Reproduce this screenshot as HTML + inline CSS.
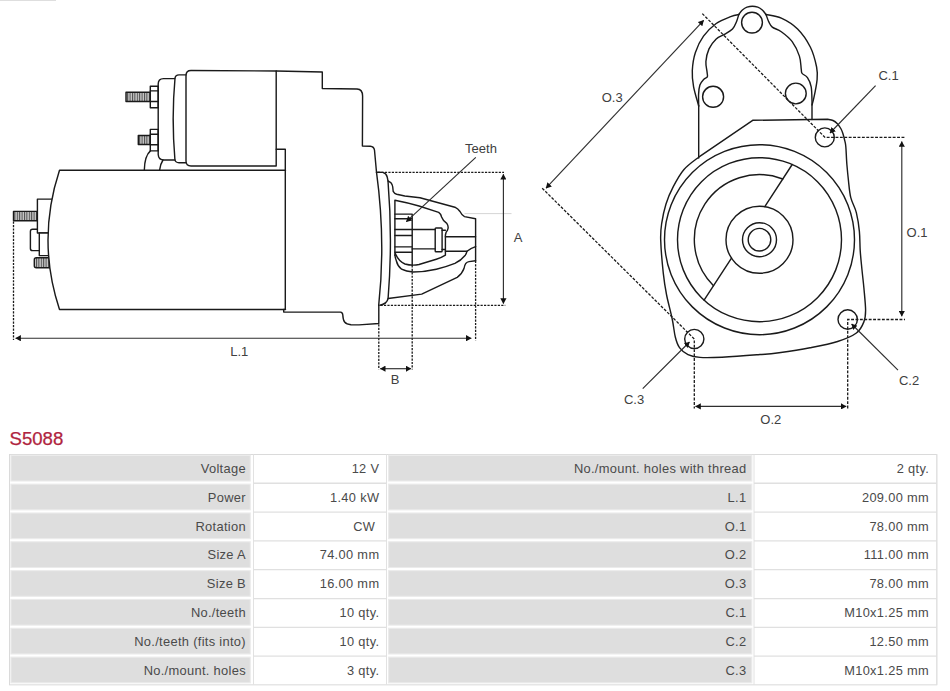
<!DOCTYPE html>
<html><head><meta charset="utf-8"><title>S5088</title>
<style>
html,body{margin:0;padding:0;background:#fff;}
body{width:950px;height:691px;position:relative;overflow:hidden;font-family:"Liberation Sans",sans-serif;}
#dr{position:absolute;left:0;top:0;width:950px;height:430px;}
#dr text{font-family:"Liberation Sans",sans-serif;font-size:13px;fill:#404040;}
h1{position:absolute;left:9.5px;top:428px;margin:0;font-size:18.6px;line-height:22px;font-weight:normal;color:#b0243e;-webkit-text-stroke:0.25px #b0243e;}
#tbl{position:absolute;left:0;top:445px;width:950px;height:246px;}
#tbl text{font-family:"Liberation Sans",sans-serif;fill:#4a4a4a;text-anchor:end;}
#tbl .l{font-size:12.9px;letter-spacing:0.3px;}
#tbl .v{font-size:12.8px;letter-spacing:0.35px;}
</style></head><body>
<svg id="dr" width="950" height="430" viewBox="0 0 950 430">
<defs>
<pattern id="th" width="2.4" height="10" patternUnits="userSpaceOnUse"><rect width="2.4" height="10" fill="#c8c8c8"/><rect width="1" height="10" fill="#4a4a4a"/></pattern>
<marker id="ah" viewBox="0 0 5.6 6.2" refX="5.3" refY="3.1" markerWidth="5.6" markerHeight="6.2" orient="auto-start-reverse" markerUnits="userSpaceOnUse"><path d="M0,0 L5.6,3.1 L0,6.2 Z" fill="#111"/></marker>
</defs>
<g fill="none" stroke="#1a1a1a" stroke-width="1.42" stroke-linejoin="round" stroke-linecap="round">

<!-- ===== SIDE VIEW ===== -->
<!-- left terminal of motor -->
<rect x="13.5" y="211.4" width="23.8" height="9.3" fill="url(#th)"/>
<rect x="30.4" y="229.2" width="12" height="21.4" rx="2.2" fill="#fff"/>
<path d="M52,199.1 L37.4,199.1 L37.4,233 L50,233" fill="#fff"/>
<path d="M50,233 L39.3,233 L39.3,255.6 L50,255.6" fill="#fff"/>
<path d="M50,257.8 L36.3,257.8 Q34.3,257.8 34.3,259.8 L34.3,265.8 Q34.3,267.8 36.3,267.8 L50,267.8 Z" fill="url(#th)"/>
<!-- motor body -->
<path d="M285.5,170.2 L59.5,170.2 Q36.5,240 59.5,309.5 L285.5,309.5" fill="#fff"/>
<path d="M276.2,149.2 L285.3,149.2 L285.3,309.4 L283.7,309.4 L283.7,312.1 L340.5,312.1 Q342.6,312.3 342.8,315 Q343,320 344.6,322 Q346.5,324.3 351,324.7 L359,324.9 L378.8,323.5 L378.8,305.3"/>
<!-- solenoid bolts -->
<rect x="126" y="92.3" width="24.3" height="9.2" fill="url(#th)"/>
<rect x="150.3" y="86.3" width="7.9" height="21.5" fill="#fff"/>
<path d="M150.3,90.9 H158.2 M150.3,101.5 H158.2"/>
<rect x="138.3" y="135.5" width="12" height="9" fill="url(#th)"/>
<rect x="150.3" y="129.4" width="7.9" height="21.5" fill="#fff"/>
<path d="M150.3,134.3 H158.2 M150.3,144.8 H158.2"/>
<!-- solenoid support arcs -->
<path d="M150.4,150.9 Q144.6,156 144.3,170.2"/>
<path d="M163,160 Q160.3,164 159.6,170.2"/>
<!-- solenoid caps -->
<path d="M174.8,78.6 L163.5,78.6 Q158.2,78.6 158.2,84 L158.2,154.5 Q158.5,160 164,160 L174.9,160"/>
<path d="M186,74.9 L179,74.9 Q175.4,75 175,78.2 Q171.4,118 174.9,159.5 Q175.4,162.7 179,162.7 L186,162.7"/>
<path d="M276.2,71 L191,70.5 Q186,70.5 186,75.5 L186,161 Q186,166 191,166 L276.2,166 Z"/>
<!-- housing -->
<path d="M276.2,71 L322.3,72 L322.3,88.5 L357,89 Q362.6,89.3 362.6,96 L362.4,146 L370.3,146.3 Q374,146.7 374.5,150.2 L376.5,172.2"/>
<path d="M376.5,172.2 Q385.8,240 378.7,305.4"/>
<!-- nose cone -->
<path d="M376.5,172.2 L382.8,172.4 Q386.4,173.3 387.2,177 L388,180.9 Q389.5,182 390.9,182.7 Q392.5,184.5 392.7,186.7 L393.2,191.3 Q394.4,193.6 396.7,194.2 L404.8,196 L420,197.7 L454.9,207.2 Q458,208.8 460,211.5 Q462,215.5 464.5,216.6 L475.6,218.8 L475.6,260.8"/>
<path d="M388,180.9 Q392.8,240 388.1,298.5 Q386.8,304 380,305.2"/>
<path d="M388.1,298.5 L421.7,294.1 L457.2,277.3 Q462,274 464,268.5 Q465,262 469,261.6 L475.6,260.8"/>
<!-- inner window -->
<path d="M394.9,255.2 L394.9,200.2 Q407,202.5 419,206 L438.7,212.4 Q441,214 441.6,217 Q443,221 446.8,223.4 Q448.6,226 448,228.6 Q447.5,231 446.2,232 L445.4,235 L445.4,255.2 Q441,258 436.3,259.3 L419,264.5 Q412,266 405,264 Q398,261 394.9,252.3"/>
<path d="M475.6,246.6 Q470,248.5 467,251.2 Q466.5,253.5 465.3,255.2 Q461,260.5 454.9,263.4 Q446,267 436.3,269.2 Q424,272 413.2,272 Q406,271.5 401.6,269.2 Q397.5,266 396.4,261 Q395.2,258 394.9,255.2"/>
<!-- pinion -->
<path d="M394.9,214.1 H412.2 M394.9,218.7 H412.2 M394.9,229.5 H412.2 M394.9,235.5 H412.2 M394.9,246.9 H412.2 M394.9,252.3 H412.2 M412.2,214.1 V265.3"/>
<path d="M412.2,229.5 H435.2 M412.2,248.9 H435.2"/>
<rect x="435.2" y="228" width="6.9" height="23.8" rx="0.8"/>
<path d="M442.1,230.3 H445.4 M442.1,249.5 H445.4"/>
<path d="M445.4,236.7 H475.6 M445.4,251.2 H467"/>

<!-- ===== FRONT VIEW ===== -->
<!-- solenoid cap outer -->
<path d="M698.7,158 L698.7,106"/>
<path d="M698.7,106.0 C697.9,102.8 694.7,92.7 693.6,86.8 C692.5,80.9 692.0,76.3 692.3,70.6 C692.6,64.9 693.5,58.2 695.4,52.5 C697.3,46.8 700.0,41.0 703.5,36.2 C707.0,31.4 711.7,26.8 716.2,23.5 C720.7,20.2 726.9,18.1 730.7,16.6 C734.5,15.1 737.4,14.8 738.8,14.5"/>
<path d="M738.8,14.5 C739.4,13.8 741.0,11.2 742.4,10.0 C743.8,8.8 745.3,7.8 747.0,7.2 C748.7,6.6 750.6,6.2 752.4,6.2 C754.2,6.2 756.1,6.6 757.8,7.2 C759.4,7.8 760.9,8.8 762.3,10.0 C763.7,11.2 765.4,13.8 766.0,14.5"/>
<path d="M766.0,14.5 C768.5,15.1 776.0,15.7 781.3,18.1 C786.6,20.5 792.8,24.2 797.6,29.0 C802.4,33.8 807.1,40.7 810.3,47.0 C813.5,53.3 815.5,61.6 816.6,67.0 C817.7,72.4 817.6,74.5 817.1,79.6 C816.6,84.7 814.8,93.5 813.9,97.7 C813.0,101.9 812.3,103.8 812.0,105.0 L812,119.5"/>
<!-- inner contour -->
<path d="M698.7,106.0 C698.7,104.0 698.4,97.5 698.6,94.0 C698.8,90.5 699.1,87.4 699.9,85.0 C700.7,82.6 702.3,80.9 703.5,79.6 C704.7,78.2 706.7,78.1 707.3,76.9 C707.9,75.7 707.3,75.0 707.1,72.4 C706.9,69.8 705.6,65.4 705.9,61.5 C706.2,57.6 707.3,52.7 709.0,48.9 C710.7,45.1 713.7,41.3 716.2,38.9 C718.8,36.5 721.6,36.0 724.3,34.4 C727.0,32.8 730.5,31.1 732.5,29.0 C734.5,26.9 735.5,24.1 736.5,21.7 C737.5,19.3 738.4,15.7 738.8,14.5"/>
<path d="M766.0,14.5 C766.5,15.7 767.7,19.6 768.7,21.7 C769.8,23.8 770.2,25.4 772.3,27.1 C774.4,28.8 778.0,29.3 781.3,31.7 C784.6,34.1 789.2,37.5 792.2,41.6 C795.2,45.7 797.9,51.6 799.4,56.1 C800.9,60.6 800.8,65.9 801.2,68.8 C801.7,71.7 801.0,71.8 802.1,73.3 C803.2,74.8 806.1,75.5 807.6,77.8 C809.1,80.0 810.5,82.9 811.2,86.8 C811.9,90.7 811.9,98.3 812.0,101.3 C812.1,104.3 812.0,104.4 812.0,105.0"/>
<circle cx="752" cy="22.6" r="10.4"/>
<circle cx="713.1" cy="96.8" r="10.5"/>
<circle cx="795.8" cy="93.5" r="10.4"/>
<!-- bracket -->
<path d="M752.7,120.3 L827.8,119.3 C828.7,119.5 831.4,119.8 833.0,120.5 C834.6,121.2 836.1,122.4 837.4,123.7 C838.7,125.0 839.9,126.9 840.8,128.5 C841.7,130.1 842.2,131.4 842.8,133.3 C843.4,135.2 844.1,137.8 844.6,140.0 C845.1,142.2 845.4,142.4 845.8,146.5 C846.2,150.6 846.4,158.9 846.9,164.7 C847.4,170.4 847.9,175.5 848.5,181.0 C849.1,186.5 849.5,192.4 850.8,197.7 C852.1,203.0 855.0,207.2 856.4,212.8 C857.8,218.5 858.8,225.3 859.4,231.6 C860.0,237.9 859.8,244.0 860.2,250.4 C860.6,256.8 861.4,263.7 862.0,270.0 C862.6,276.3 863.3,281.2 863.9,288.0 C864.5,294.8 865.6,304.9 865.6,310.5 C865.6,316.1 865.4,318.1 863.9,321.8 C862.4,325.6 860.8,329.7 856.4,333.0 C852.0,336.3 845.3,339.0 837.6,341.5 C829.9,344.0 819.8,345.9 810.0,347.8 C800.2,349.7 787.9,351.5 779.0,352.7 C770.1,353.9 766.3,354.1 756.8,354.8 C747.3,355.6 731.5,356.8 722.0,357.2 C712.5,357.6 705.7,357.8 700.0,357.4 C694.3,357.0 691.4,356.2 688.0,354.6 C684.6,353.0 681.6,350.5 679.5,347.6 C677.4,344.7 676.5,341.8 675.3,337.0 C674.1,332.2 673.7,326.0 672.2,319.0 C670.8,312.0 668.1,302.6 666.6,295.0 C665.1,287.4 664.3,282.5 663.3,273.3 C662.3,264.1 661.0,248.3 660.7,240.0 C660.4,231.7 660.8,229.3 661.7,223.3 C662.6,217.3 664.1,210.1 666.0,204.0 C667.9,197.9 670.3,192.4 673.3,186.7 C676.3,180.9 679.8,174.4 684.0,169.5 C688.2,164.6 696.2,159.2 698.7,157.2 L752.7,120.3"/>
<circle cx="824.8" cy="137.4" r="9.5"/>
<circle cx="694.3" cy="339" r="9.6"/>
<circle cx="847.7" cy="319.5" r="9.7"/>
<!-- circles -->
<circle cx="759.5" cy="239.7" r="95"/>
<circle cx="759.5" cy="239.7" r="82"/>
<circle cx="759.5" cy="239.7" r="33.5"/>
<circle cx="759.5" cy="239.7" r="17"/>
<circle cx="759.5" cy="239.7" r="11.3"/>
<path d="M782.8,179 A65,65 0 0 0 713.5,285.7"/>
<path d="M792.2,164.5 L764.8,206.6 M731.5,258.1 L704.1,300.2"/>
</g>

<!-- light artefact line -->
<rect x="0" y="0" width="56" height="1" fill="#dedede"/>
<path d="M464.5,213.6 H511.5" stroke="#d6d6d6" stroke-width="1" fill="none"/>

<!-- ===== DIMENSIONS ===== -->
<g fill="none" stroke="#1a1a1a" stroke-width="1.3" stroke-dasharray="2.2 1.25">
<path d="M13.5,221.5 V340"/>
<path d="M378,172.3 H504"/>
<path d="M380.5,305.4 H505.3"/>
<path d="M378.8,324.3 V369.5"/>
<path d="M412.2,265.3 V369.5"/>
<path d="M475.6,260.8 V340.5"/>
</g>
<g fill="none" stroke="#1a1a1a" stroke-width="1.3" stroke-dasharray="2.9 1.5">
<path d="M702.3,13.6 L825,137.4 H905"/>
<path d="M542.2,188.2 L694.3,339 V408.5"/>
<path d="M847.7,408.5 V319.5 H905"/>
</g>
<g fill="none" stroke="#2e2e2e" stroke-width="1.15">
<path d="M15.6,338.2 H471.3" marker-start="url(#ah)" marker-end="url(#ah)"/>
<path d="M380.2,368.7 H411" marker-start="url(#ah)" marker-end="url(#ah)"/>
<path d="M503.4,174.3 V303.6" marker-start="url(#ah)" marker-end="url(#ah)"/>
<path d="M475.8,157.3 L406.3,221.7" marker-end="url(#ah)"/>
<path d="M703.7,20.3 L546,188.2" marker-start="url(#ah)" marker-end="url(#ah)"/>
<path d="M901.8,141.5 V316.3" marker-start="url(#ah)" marker-end="url(#ah)"/>
<path d="M695.5,406.4 H846.2" marker-start="url(#ah)" marker-end="url(#ah)"/>
<path d="M875.6,85.6 L830,133" marker-end="url(#ah)"/>
<path d="M898,370.1 L851.6,324" marker-end="url(#ah)"/>
<path d="M642.7,388.6 L689.5,342" marker-end="url(#ah)"/>
</g>
<g text-anchor="middle">
<text x="481" y="153">Teeth</text>
<text x="518" y="241.6">A</text>
<text x="239.3" y="356.2">L.1</text>
<text x="395" y="384.3">B</text>
<text x="612.2" y="101.7">O.3</text>
<text x="888.6" y="80.4">C.1</text>
<text x="917" y="236.9">O.1</text>
<text x="909" y="385.2">C.2</text>
<text x="770.8" y="424.4">O.2</text>
<text x="634" y="404.2">C.3</text>
</g>
</svg>

<h1>S5088</h1>
<svg id="tbl" width="950" height="246" viewBox="0 445 950 246">
<rect x="9.5" y="454.50" width="927.3" height="230.34" fill="#fff" stroke="#dadada"/>
<path d="M253.5,454.5 V684.84 M386.5,454.5 V684.84" stroke="#e2e2e2" fill="none"/>
<path d="M253.5,483.23 H386.5" stroke="#e0e0e0" stroke-width="1.3" fill="none"/>
<path d="M253.5,512.06 H386.5" stroke="#e0e0e0" stroke-width="1.3" fill="none"/>
<path d="M253.5,540.89 H386.5" stroke="#e0e0e0" stroke-width="1.3" fill="none"/>
<path d="M253.5,569.72 H386.5" stroke="#e0e0e0" stroke-width="1.3" fill="none"/>
<path d="M253.5,598.55 H386.5" stroke="#e0e0e0" stroke-width="1.3" fill="none"/>
<path d="M253.5,627.38 H386.5" stroke="#e0e0e0" stroke-width="1.3" fill="none"/>
<path d="M253.5,656.21 H386.5" stroke="#e0e0e0" stroke-width="1.3" fill="none"/>
<path d="M754,454.5 V684.84 M936.8,454.5 V684.84" stroke="#e2e2e2" fill="none"/>
<path d="M754,483.23 H936.8" stroke="#e0e0e0" stroke-width="1.3" fill="none"/>
<path d="M754,512.06 H936.8" stroke="#e0e0e0" stroke-width="1.3" fill="none"/>
<path d="M754,540.89 H936.8" stroke="#e0e0e0" stroke-width="1.3" fill="none"/>
<path d="M754,569.72 H936.8" stroke="#e0e0e0" stroke-width="1.3" fill="none"/>
<path d="M754,598.55 H936.8" stroke="#e0e0e0" stroke-width="1.3" fill="none"/>
<path d="M754,627.38 H936.8" stroke="#e0e0e0" stroke-width="1.3" fill="none"/>
<path d="M754,656.21 H936.8" stroke="#e0e0e0" stroke-width="1.3" fill="none"/>
<rect x="10.9" y="455.30" width="239.4" height="25.7" fill="#dedede" stroke="#ebebeb" stroke-width="1.1"/>
<rect x="388.6" y="455.30" width="363.2" height="25.7" fill="#dedede" stroke="#ebebeb" stroke-width="1.1"/>
<rect x="10.9" y="484.13" width="239.4" height="25.7" fill="#dedede" stroke="#ebebeb" stroke-width="1.1"/>
<rect x="388.6" y="484.13" width="363.2" height="25.7" fill="#dedede" stroke="#ebebeb" stroke-width="1.1"/>
<rect x="10.9" y="512.96" width="239.4" height="25.7" fill="#dedede" stroke="#ebebeb" stroke-width="1.1"/>
<rect x="388.6" y="512.96" width="363.2" height="25.7" fill="#dedede" stroke="#ebebeb" stroke-width="1.1"/>
<rect x="10.9" y="541.79" width="239.4" height="25.7" fill="#dedede" stroke="#ebebeb" stroke-width="1.1"/>
<rect x="388.6" y="541.79" width="363.2" height="25.7" fill="#dedede" stroke="#ebebeb" stroke-width="1.1"/>
<rect x="10.9" y="570.62" width="239.4" height="25.7" fill="#dedede" stroke="#ebebeb" stroke-width="1.1"/>
<rect x="388.6" y="570.62" width="363.2" height="25.7" fill="#dedede" stroke="#ebebeb" stroke-width="1.1"/>
<rect x="10.9" y="599.45" width="239.4" height="25.7" fill="#dedede" stroke="#ebebeb" stroke-width="1.1"/>
<rect x="388.6" y="599.45" width="363.2" height="25.7" fill="#dedede" stroke="#ebebeb" stroke-width="1.1"/>
<rect x="10.9" y="628.28" width="239.4" height="25.7" fill="#dedede" stroke="#ebebeb" stroke-width="1.1"/>
<rect x="388.6" y="628.28" width="363.2" height="25.7" fill="#dedede" stroke="#ebebeb" stroke-width="1.1"/>
<rect x="10.9" y="657.11" width="239.4" height="25.7" fill="#dedede" stroke="#ebebeb" stroke-width="1.1"/>
<rect x="388.6" y="657.11" width="363.2" height="25.7" fill="#dedede" stroke="#ebebeb" stroke-width="1.1"/>
<text class="l" x="245.9" y="472.90">Voltage</text>
<text class="v" x="379.4" y="472.90">12 V</text>
<text class="l" x="746.4" y="472.90">No./mount. holes with thread</text>
<text class="v" x="929.1" y="472.90">2 qty.</text>
<text class="l" x="245.9" y="501.73">Power</text>
<text class="v" x="379.4" y="501.73">1.40 kW</text>
<text class="l" x="746.4" y="501.73">L.1</text>
<text class="v" x="929.1" y="501.73">209.00 mm</text>
<text class="l" x="245.9" y="530.56">Rotation</text>
<text class="v" x="375.3" y="530.56">CW</text>
<text class="l" x="746.4" y="530.56">O.1</text>
<text class="v" x="929.1" y="530.56">78.00 mm</text>
<text class="l" x="245.9" y="559.39">Size A</text>
<text class="v" x="379.4" y="559.39">74.00 mm</text>
<text class="l" x="746.4" y="559.39">O.2</text>
<text class="v" x="929.1" y="559.39">111.00 mm</text>
<text class="l" x="245.9" y="588.22">Size B</text>
<text class="v" x="379.4" y="588.22">16.00 mm</text>
<text class="l" x="746.4" y="588.22">O.3</text>
<text class="v" x="929.1" y="588.22">78.00 mm</text>
<text class="l" x="245.9" y="617.05">No./teeth</text>
<text class="v" x="379.4" y="617.05">10 qty.</text>
<text class="l" x="746.4" y="617.05">C.1</text>
<text class="v" x="929.1" y="617.05">M10x1.25 mm</text>
<text class="l" x="245.9" y="645.88">No./teeth (fits into)</text>
<text class="v" x="379.4" y="645.88">10 qty.</text>
<text class="l" x="746.4" y="645.88">C.2</text>
<text class="v" x="929.1" y="645.88">12.50 mm</text>
<text class="l" x="245.9" y="674.71">No./mount. holes</text>
<text class="v" x="379.4" y="674.71">3 qty.</text>
<text class="l" x="746.4" y="674.71">C.3</text>
<text class="v" x="929.1" y="674.71">M10x1.25 mm</text>
</svg>
</body></html>
